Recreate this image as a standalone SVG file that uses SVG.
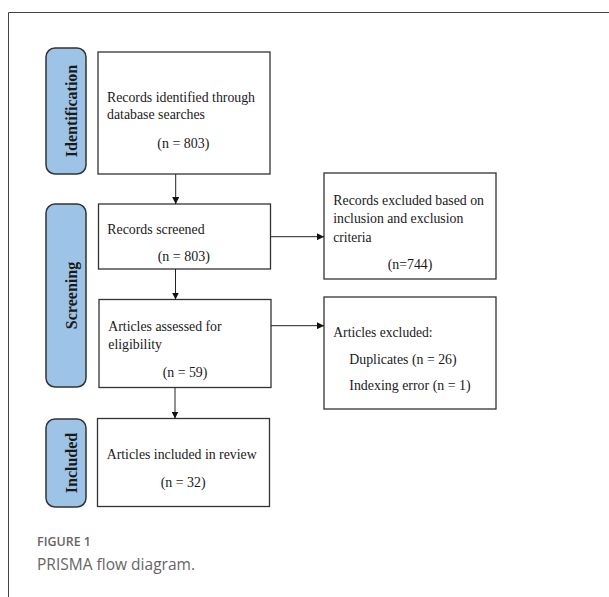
<svg xmlns="http://www.w3.org/2000/svg" width="609" height="597" viewBox="0 0 609 597">
<style>
.box{fill:#fff;stroke:#333;stroke-width:1.3}
.pill{fill:#9dc3e6;stroke:#333;stroke-width:1.5}
.t{font-family:"Liberation Serif","Times New Roman",serif;font-size:15px;fill:#1a1a1a}
.lab{font-family:"Liberation Serif","Times New Roman",serif;font-size:16px;font-weight:bold;fill:#1a1a1a;text-anchor:middle}
.conn{stroke:#222;stroke-width:1;fill:none;marker-end:url(#ah)}
</style>
<defs>
<marker id="ah" viewBox="0 0 10 10" refX="10" refY="5" markerWidth="7" markerHeight="7" markerUnits="userSpaceOnUse" orient="auto">
<path d="M0,0 L10,5 L0,10 z" fill="#111"/>
</marker>
</defs>
<rect width="609" height="597" fill="#fff"/>
<path d="M8.5,597 V12.5 H609" fill="none" stroke="#444" stroke-width="1"/>

<g id="stage-identification">
<rect class="pill" x="46" y="48" width="40" height="126" rx="9"/>
<text class="lab" transform="translate(76.5,111) rotate(-90)">Identification</text>
</g>
<g id="stage-screening">
<rect class="pill" x="46" y="204" width="40" height="183" rx="9"/>
<text class="lab" transform="translate(76.5,295.5) rotate(-90)">Screening</text>
</g>
<g id="stage-included">
<rect class="pill" x="46" y="419" width="40" height="88" rx="9"/>
<text class="lab" transform="translate(76.5,463) rotate(-90)">Included</text>
</g>

<g id="identified">
<rect class="box" x="98" y="52" width="172" height="122"/>
<text class="t" x="107" y="102" textLength="148" lengthAdjust="spacingAndGlyphs">Records identified through</text>
<text class="t" x="107" y="118.5" textLength="98" lengthAdjust="spacingAndGlyphs">database searches</text>
<text class="t" x="157.3" y="147.5" textLength="52" lengthAdjust="spacingAndGlyphs">(n = 803)</text>
</g>
<g id="screened">
<rect class="box" x="98.5" y="204" width="172" height="65"/>
<text class="t" x="107.3" y="233.5" textLength="97.3" lengthAdjust="spacingAndGlyphs">Records screened</text>
<text class="t" x="157.7" y="260.5" textLength="52.3" lengthAdjust="spacingAndGlyphs">(n = 803)</text>
</g>
<g id="excluded-records">
<rect class="box" x="324" y="173" width="172" height="106"/>
<text class="t" x="333.3" y="204.5" textLength="150.7" lengthAdjust="spacingAndGlyphs">Records excluded based on</text>
<text class="t" x="333.3" y="223" textLength="130" lengthAdjust="spacingAndGlyphs">inclusion and exclusion</text>
<text class="t" x="333.3" y="242" textLength="38.3" lengthAdjust="spacingAndGlyphs">criteria</text>
<text class="t" x="387.7" y="268.5" textLength="44.7" lengthAdjust="spacingAndGlyphs">(n=744)</text>
</g>
<g id="assessed">
<rect class="box" x="99" y="299.5" width="172" height="88"/>
<text class="t" x="108.3" y="330.5" textLength="113.3" lengthAdjust="spacingAndGlyphs">Articles assessed for</text>
<text class="t" x="108.3" y="348.5" textLength="53.7" lengthAdjust="spacingAndGlyphs">eligibility</text>
<text class="t" x="162.7" y="377" textLength="44.7" lengthAdjust="spacingAndGlyphs">(n = 59)</text>
</g>
<g id="excluded-articles">
<rect class="box" x="324" y="297" width="172" height="112"/>
<text class="t" x="333.3" y="336.5" textLength="99.3" lengthAdjust="spacingAndGlyphs">Articles excluded:</text>
<text class="t" x="349.3" y="363.5" textLength="107.3" lengthAdjust="spacingAndGlyphs">Duplicates (n = 26)</text>
<text class="t" x="349.3" y="389.5" textLength="121.3" lengthAdjust="spacingAndGlyphs">Indexing error (n = 1)</text>
</g>
<g id="included">
<rect class="box" x="97.5" y="418.5" width="172" height="88"/>
<text class="t" x="106.7" y="458.5" textLength="150" lengthAdjust="spacingAndGlyphs">Articles included in review</text>
<text class="t" x="160.7" y="486.5" textLength="45" lengthAdjust="spacingAndGlyphs">(n = 32)</text>
</g>

<g id="connectors">
<line class="conn" x1="175.7" y1="174" x2="175.7" y2="204"/>
<line class="conn" x1="270.7" y1="236.7" x2="324" y2="236.7"/>
<line class="conn" x1="175.5" y1="269" x2="175.5" y2="299.5"/>
<line class="conn" x1="271" y1="325.7" x2="324" y2="325.7"/>
<line class="conn" x1="175" y1="387.5" x2="175" y2="418.5"/>
</g>

<g id="caption">
<text x="37" y="546" font-family="'Open Sans',sans-serif" font-size="13" font-weight="600" fill="#666" textLength="54" lengthAdjust="spacingAndGlyphs">FIGURE 1</text>
<text x="37" y="570" font-family="'Open Sans',sans-serif" font-size="16" fill="#666" textLength="158" lengthAdjust="spacingAndGlyphs">PRISMA flow diagram.</text>
</g>
</svg>
